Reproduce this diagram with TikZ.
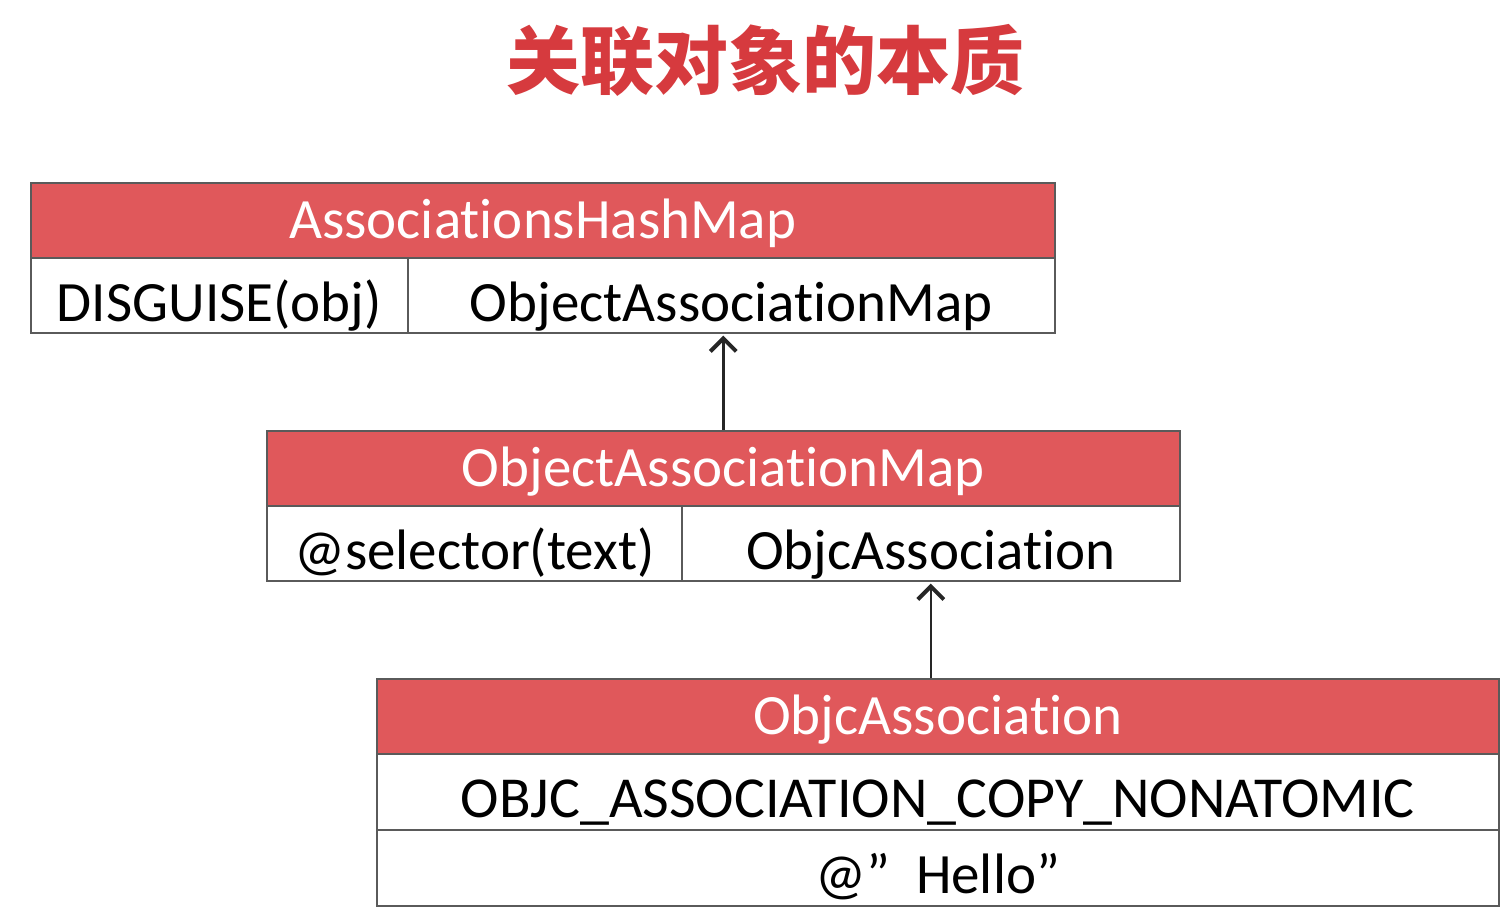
\documentclass[tikz,border=0pt]{standalone}
\usepackage{fontspec}
\setmainfont{Carlito}[Ligatures={NoCommon,NoRare,NoContextual}]
\newfontfamily\cjk{Noto Sans CJK SC}
\usetikzlibrary{arrows.meta}
\definecolor{hdrred}{RGB}{224,88,91}
\definecolor{titlered}{RGB}{214,58,62}
\definecolor{edge}{RGB}{90,90,90}

\begin{document}
\begin{tikzpicture}[x=1pt,y=-1pt,
  cell/.style={draw=edge,line width=1.6pt,fill=white,anchor=north west,inner sep=0pt,
    minimum height=75pt,text height=52pt,text depth=0pt,font=\fontsize{57}{60}\selectfont},
  hdr/.style={cell,fill=hdrred,text=white,text height=37pt},
  link/.style={draw=black!85,line width=2.6pt,shorten >=2pt,
    -{Straight Barb[length=13pt,width=26pt,line width=4pt]}}]
\useasboundingbox (0,0) rectangle (1512,911);
\node[font=\cjk\bfseries\fontsize{74}{80}\selectfont,text=titlered] (title) at (765,60) {关联对象的本质};
% AssociationsHashMap
\node[hdr,minimum width=1024pt] (hashmap) at (30,182) {AssociationsHashMap};
\node[cell,minimum width=377pt] (disguise) at (30,257) {DISGUISE(obj)};
\node[cell,minimum width=647pt] (objmap) at (407,257) {ObjectAssociationMap};
% ObjectAssociationMap
\node[hdr,minimum width=913pt] (assocmap) at (266,430) {ObjectAssociationMap};
\node[cell,minimum width=415pt] (selector) at (266,505) {@selector(text)};
\node[cell,minimum width=498pt] (objcassoc) at (681,505) {ObjcAssociation};
% ObjcAssociation
\node[hdr,minimum width=1122pt] (association) at (376,678) {ObjcAssociation};
\node[cell,minimum width=1122pt,minimum height=76pt,font=\fontsize{58}{60}\selectfont] (policy) at (376,753) {OBJC\_ASSOCIATION\_COPY\_NONATOMIC};
\node[cell,minimum width=1122pt,minimum height=76pt] (value) at (376,829) {@”\ \ Hello”};
\draw[link] (assocmap.north) -- (assocmap.north |- objmap.south);
\draw[link] (objcassoc.south |- association.north) -- (objcassoc.south);
\end{tikzpicture}
\end{document}
